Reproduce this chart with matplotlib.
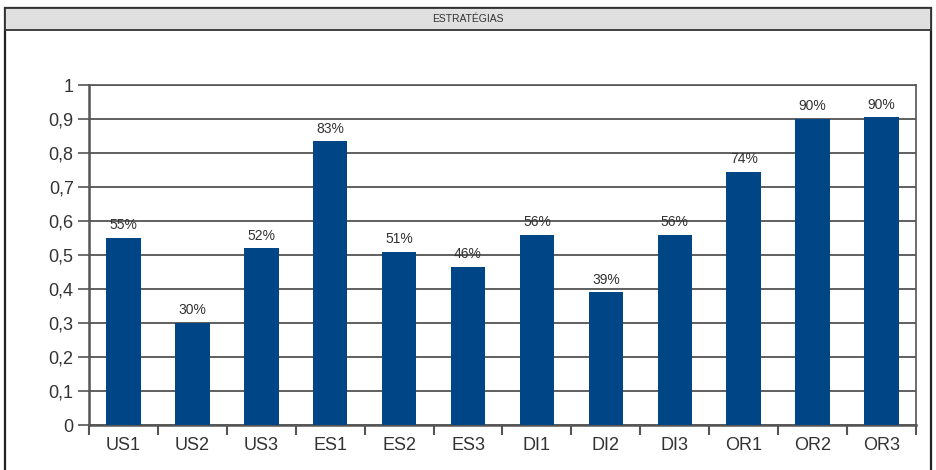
import matplotlib.pyplot as plt
from matplotlib.patches import Rectangle

plt.rcParams['font.family'] = ['Liberation Sans', 'DejaVu Sans']

categories = ["US1", "US2", "US3", "ES1", "ES2", "ES3", "DI1", "DI2", "DI3", "OR1", "OR2", "OR3"]
values = [0.55, 0.30, 0.52, 0.835, 0.51, 0.465, 0.56, 0.39, 0.56, 0.745, 0.90, 0.905]
pct_labels = ["55%", "30%", "52%", "83%", "51%", "46%", "56%", "39%", "56%", "74%", "90%", "90%"]
yticks = [0, 0.1, 0.2, 0.3, 0.4, 0.5, 0.6, 0.7, 0.8, 0.9, 1]
ytick_labels = ["0", "0,1", "0,2", "0,3", "0,4", "0,5", "0,6", "0,7", "0,8", "0,9", "1"]

W, H = 936, 470
fig = plt.figure(figsize=(W / 100, H / 100), dpi=100)

# outer frame + title band
fig.patches.append(Rectangle((5 / W, -0.1), 926 / W, 1.1 - 8 / H, transform=fig.transFigure,
                             fill=False, edgecolor='#222222', linewidth=1.6))
fig.patches.append(Rectangle((5 / W, 1 - 30 / H), 926 / W, 22 / H, transform=fig.transFigure,
                             facecolor='#e0e0e0', edgecolor='#333333', linewidth=1.3))
fig.text(0.5, 1 - 19 / H, "ESTRATÉGIAS", ha='center', va='center', fontsize=7.5, color='#333333')

ax = fig.add_axes([89 / W, 45 / H, 827 / W, 340 / H])
x = range(len(categories))
ax.bar(x, values, width=0.5, color='#004586', zorder=3)
for i, v in enumerate(values):
    ax.annotate(pct_labels[i], (i, v), xytext=(0, 4), textcoords='offset points',
                ha='center', va='bottom', fontsize=10, color='#333333', zorder=4)

ax.set_xlim(-0.5, len(categories) - 0.5)
ax.set_ylim(0, 1)
ax.set_yticks(yticks)
ax.set_yticklabels(ytick_labels, fontsize=13, color='#333333')
ax.set_xticks(list(x))
ax.set_xticklabels(categories, fontsize=13, color='#333333')
ax.set_xticks([i - 0.5 for i in range(len(categories) + 1)], minor=True)
ax.tick_params(axis='x', which='major', length=0, pad=9)
ax.tick_params(axis='x', which='minor', length=7, width=1.5, color='#555555')
ax.tick_params(axis='y', length=8, width=1.2, color='#555555', pad=3)
ax.yaxis.grid(True, color='#444444', linewidth=1.2, zorder=0)
for side in ['left', 'bottom']:
    ax.spines[side].set_color('#555555')
    ax.spines[side].set_linewidth(1.8)
for side in ['right', 'top']:
    ax.spines[side].set_color('#555555')
    ax.spines[side].set_linewidth(1.2)

fig.savefig("out.png", dpi=100)
